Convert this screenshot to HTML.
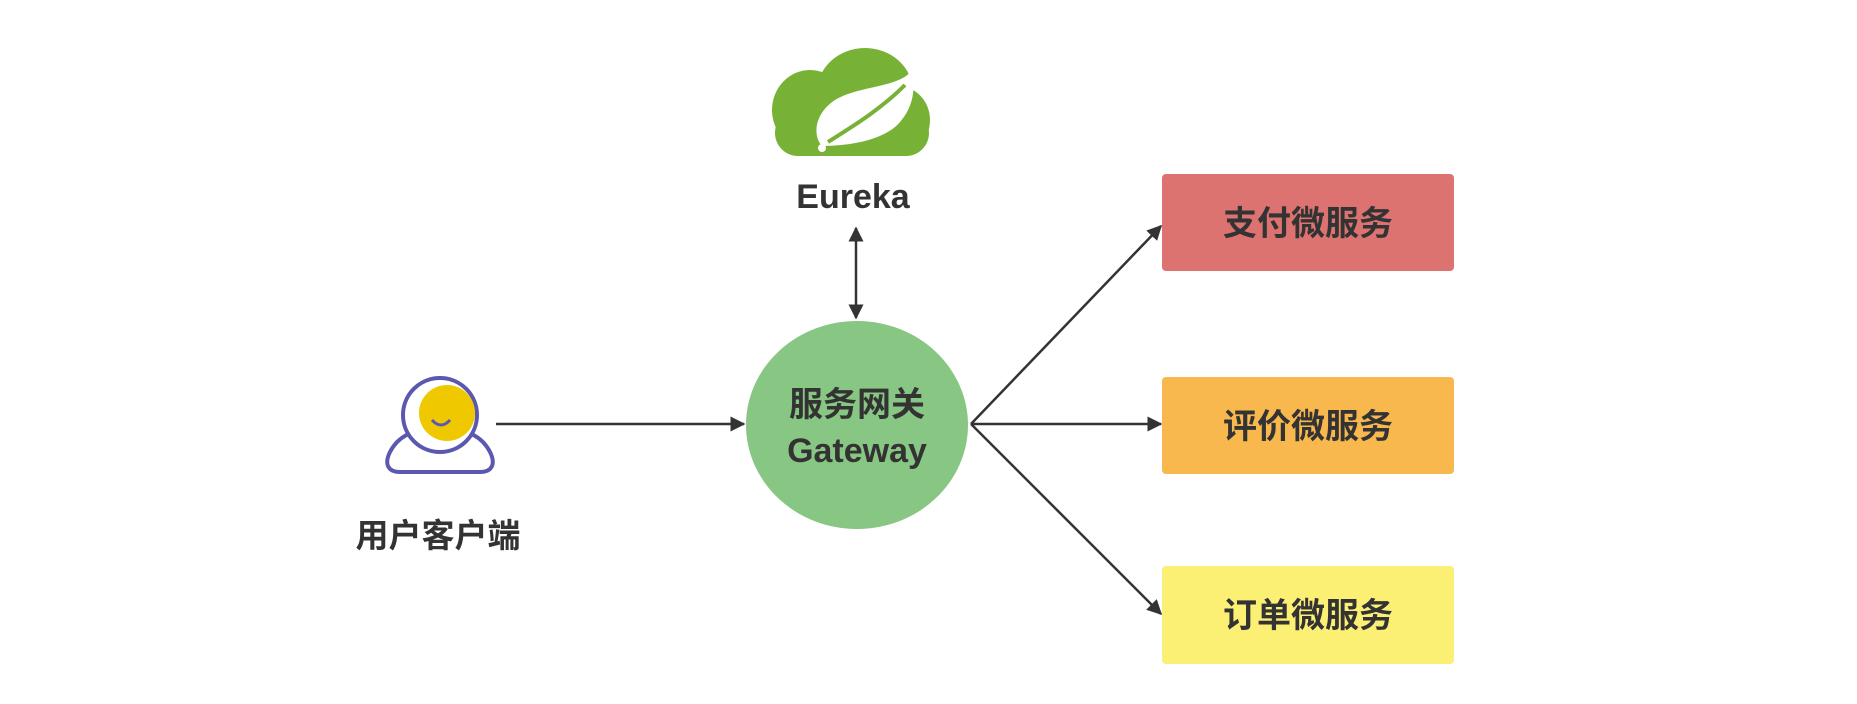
<!DOCTYPE html>
<html><head><meta charset="utf-8"><style>
html,body{margin:0;padding:0;background:#fff;}
svg{display:block;}
text{font-family:"Liberation Sans","Noto Sans CJK SC",sans-serif;font-weight:bold;fill:#333;}
</style></head><body>
<svg width="1857" height="704" viewBox="0 0 1857 704" xmlns="http://www.w3.org/2000/svg">
<defs>
<marker id="a" viewBox="0 0 10 10" refX="9" refY="5" markerWidth="6" markerHeight="6" orient="auto-start-reverse">
<path d="M0,0 L10,5 L0,10 z" fill="#333"/></marker>
</defs>
<!-- cloud -->
<g fill="#77b136">
<ellipse cx="810" cy="110" rx="38" ry="40"/>
<ellipse cx="865" cy="92" rx="48" ry="44"/>
<ellipse cx="898" cy="120" rx="32" ry="34"/>
<rect x="775" y="110" width="154" height="46" rx="23"/>
</g>
<path d="M912,70 C900,88 860,85 835,100 C815,113 812,135 822,146 C850,146 885,140 900,122 C915,105 915,85 912,70 Z" fill="#fff"/>
<path d="M828,142 C850,128 880,110 905,85" stroke="#77b136" stroke-width="4" fill="none"/>
<circle cx="822" cy="148" r="4" fill="#fff"/>
<text x="853" y="208" font-size="34" text-anchor="middle">Eureka</text>
<!-- eureka arrow -->
<line x1="856" y1="228" x2="856" y2="318" stroke="#333" stroke-width="2.5" marker-start="url(#a)" marker-end="url(#a)"/>
<!-- gateway -->
<ellipse cx="857" cy="425" rx="111" ry="104" fill="#88c683"/>
<text x="857" y="416" font-size="34" text-anchor="middle">服务网关</text>
<text x="857" y="462" font-size="34" text-anchor="middle">Gateway</text>
<!-- person -->
<path d="M400,472 C388,472 384,464 390,452 C398,436 414,430 426,430 L454,430 C466,430 482,436 490,452 C496,464 492,472 480,472 Z" fill="#fff" stroke="#5b58b0" stroke-width="4"/>
<circle cx="440" cy="415" r="37" fill="#fff" stroke="#5b58b0" stroke-width="4"/>
<circle cx="447" cy="413" r="28" fill="#efc800"/>
<path d="M432,420 Q441,430 450,420" stroke="#5b58b0" stroke-width="3" fill="none"/>
<text x="438" y="547" font-size="33" text-anchor="middle">用户客户端</text>
<!-- arrows -->
<line x1="496" y1="424" x2="744" y2="424" stroke="#333" stroke-width="2.5" marker-end="url(#a)"/>
<line x1="971" y1="424" x2="1161" y2="226" stroke="#333" stroke-width="2.5" marker-end="url(#a)"/>
<line x1="971" y1="424" x2="1161" y2="424" stroke="#333" stroke-width="2.5" marker-end="url(#a)"/>
<line x1="971" y1="424" x2="1161" y2="614" stroke="#333" stroke-width="2.5" marker-end="url(#a)"/>
<!-- boxes -->
<rect x="1162" y="174" width="292" height="97" rx="4" fill="#dd7370"/>
<text x="1308" y="235" font-size="34" text-anchor="middle">支付微服务</text>
<rect x="1162" y="377" width="292" height="97" rx="4" fill="#f8b84e"/>
<text x="1308" y="438" font-size="34" text-anchor="middle">评价微服务</text>
<rect x="1162" y="566" width="292" height="98" rx="4" fill="#fbef74"/>
<text x="1308" y="627" font-size="34" text-anchor="middle">订单微服务</text>
</svg>
</body></html>
